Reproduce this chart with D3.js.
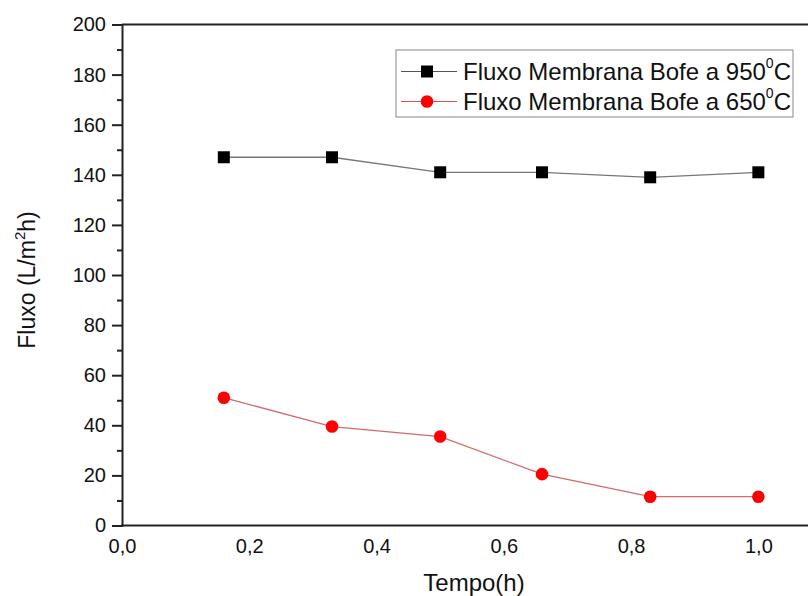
<!DOCTYPE html>
<html><head><meta charset="utf-8">
<script src="https://cdn.jsdelivr.net/npm/d3@7"></script>
<style>body{margin:0;background:#fff}svg{display:block}text{font-family:"Liberation Sans",Arial,sans-serif;fill:#111}</style>
</head><body><svg id="c" width="808" height="596"></svg>
<script>
const tempo = [0.16, 0.33, 0.50, 0.66, 0.83, 1.0];
const fluxo950 = [147, 147, 141, 141, 139, 141];
const fluxo650 = [51, 39.5, 35.5, 20.5, 11.5, 11.5];
const xTicks = [0, 0.2, 0.4, 0.6, 0.8, 1.0];
const yTicks = [0, 20, 40, 60, 80, 100, 120, 140, 160, 180, 200];
const seriesNames = ["Fluxo Membrana Bofe a 950", "Fluxo Membrana Bofe a 650"];

const svg = d3.select("#c");
const mLeft = 122, mTop = 24.5, mBottom = 525.5;
const x = d3.scaleLinear().domain([0, 1.1]).range([mLeft, mLeft + 700]);
const y = d3.scaleLinear().domain([0, 200]).range([mBottom, mTop]);
const fmt = d => d3.format(".1f")(d).replace(".", ",");

// frame top line
svg.append("line").attr("x1", mLeft).attr("x2", 830).attr("y1", mTop).attr("y2", mTop)
  .attr("stroke", "#222").attr("stroke-width", 2);

// y axis
const yAx = svg.append("g").attr("transform", `translate(${mLeft},0)`)
  .call(d3.axisLeft(y).tickValues(yTicks).tickSize(10).tickPadding(6).tickFormat(d3.format("d")));
yAx.select(".domain").attr("stroke", "#222").attr("stroke-width", 2);
yAx.selectAll(".tick line").attr("stroke", "#222").attr("stroke-width", 2);
yAx.selectAll("text").attr("font-size", 20).attr("font-family", "Liberation Sans, Arial, sans-serif").attr("fill", "#111");
const yMinor = svg.append("g").attr("transform", `translate(${mLeft},0)`)
  .call(d3.axisLeft(y).tickValues(d3.range(10, 200, 20)).tickSize(5).tickFormat(""));
yMinor.select(".domain").remove();
yMinor.selectAll(".tick line").attr("stroke", "#222").attr("stroke-width", 2);

// x axis
const xAx = svg.append("g").attr("transform", `translate(0,${mBottom})`)
  .call(d3.axisBottom(x).tickValues(xTicks).tickSize(0).tickPadding(13).tickFormat(fmt));
xAx.select(".domain").remove();
svg.append("line").attr("x1", mLeft - 1).attr("x2", 830).attr("y1", mBottom).attr("y2", mBottom)
  .attr("stroke", "#222").attr("stroke-width", 2);
xAx.selectAll("text").attr("font-size", 20).attr("font-family", "Liberation Sans, Arial, sans-serif").attr("fill", "#111");

// titles
svg.append("text").attr("x", 474).attr("y", 591).attr("text-anchor", "middle").attr("font-size", 24).text("Tempo(h)");
const yt = svg.append("text").attr("transform", "translate(35,280) rotate(-90)").attr("text-anchor", "middle").attr("font-size", 23);
yt.append("tspan").text("Fluxo (L/m");
yt.append("tspan").attr("font-size", 15).attr("dy", -10).text("2");
yt.append("tspan").attr("dy", 10).text("h)");

// lines
const line = d3.line().x((d, i) => x(tempo[i])).y(d => y(d));
svg.append("path").datum(fluxo950).attr("d", line).attr("fill", "none").attr("stroke", "#777").attr("stroke-width", 1.3);
svg.append("path").datum(fluxo650).attr("d", line).attr("fill", "none").attr("stroke", "#d46a6a").attr("stroke-width", 1.3);

// markers
svg.selectAll(".sq").data(fluxo950).enter().append("rect")
  .attr("x", (d, i) => x(tempo[i]) - 6).attr("y", d => y(d) - 6).attr("width", 12).attr("height", 12)
  .attr("fill", "#000");
svg.selectAll(".ci").data(fluxo650).enter().append("circle")
  .attr("cx", (d, i) => x(tempo[i])).attr("cy", d => y(d)).attr("r", 6.3).attr("fill", "#f00");

// legend
const lg = svg.append("g");
lg.append("rect").attr("x", 396).attr("y", 50).attr("width", 397).attr("height", 67)
  .attr("fill", "#fff").attr("stroke", "#888").attr("stroke-width", 1);
const rows = [{y: 71.5, c: "#555", shape: "sq", name: seriesNames[0]}, {y: 101.5, c: "#e05050", shape: "ci", name: seriesNames[1]}];
rows.forEach(r => {
  lg.append("line").attr("x1", 401).attr("x2", 457).attr("y1", r.y).attr("y2", r.y).attr("stroke", r.c).attr("stroke-width", 1.2);
  if (r.shape === "sq") lg.append("rect").attr("x", 421).attr("y", r.y - 6).attr("width", 12).attr("height", 12).attr("fill", "#000");
  else lg.append("circle").attr("cx", 427).attr("cy", r.y).attr("r", 6.3).attr("fill", "#f00");
  const t = lg.append("text").attr("x", 463).attr("y", r.y + 8).attr("font-size", 24);
  t.append("tspan").text(r.name);
  t.append("tspan").attr("font-size", 14).attr("dy", -12).text("0");
  t.append("tspan").attr("dy", 12).text("C");
});
</script></body></html>
